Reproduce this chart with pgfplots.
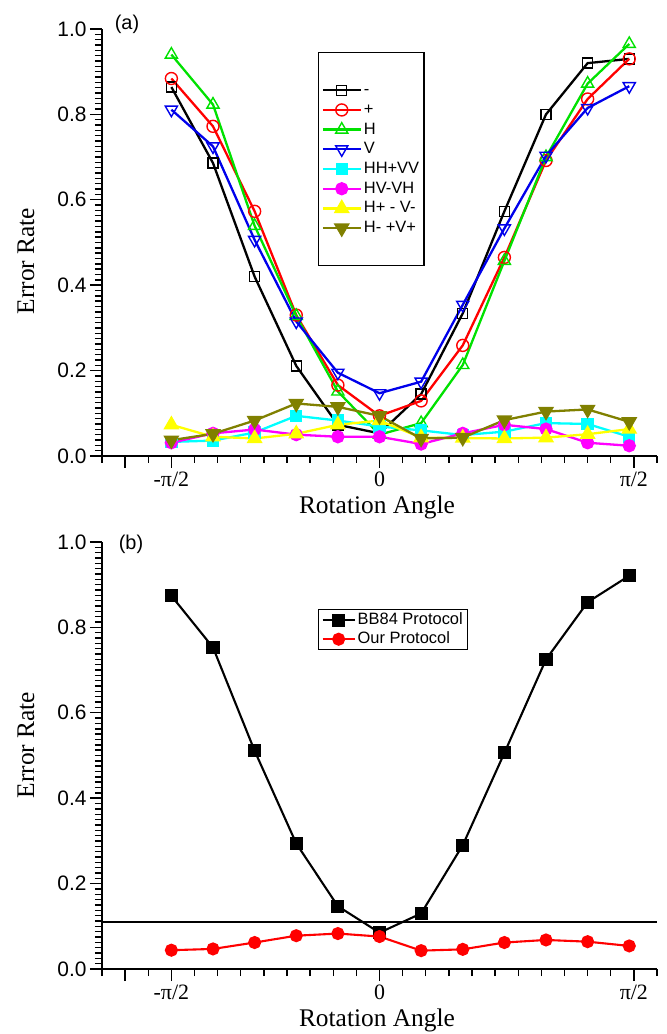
\documentclass[border=0pt]{standalone}
\usepackage{pgfplots}
\pgfplotsset{compat=1.18}
\usepackage{fontspec}
\setmainfont{Liberation Serif}
\newfontfamily\arial{Liberation Sans}
\definecolor{ogreen}{RGB}{0,225,0}
\definecolor{oblue}{RGB}{0,0,235}
\definecolor{ocyan}{RGB}{0,255,255}
\definecolor{omag}{RGB}{255,0,255}
\definecolor{oyel}{RGB}{255,255,0}
\definecolor{oolive}{RGB}{128,128,0}
\definecolor{ored}{RGB}{255,0,0}

\pgfplotstableread{
x m p H V HHVV HVVH Hp Hm
-75 0.864 0.884 0.940 0.811 0.033 0.031 0.073 0.037
-60 0.686 0.772 0.823 0.725 0.036 0.053 0.045 0.052
-45 0.420 0.573 0.539 0.506 0.055 0.062 0.041 0.083
-30 0.211 0.330 0.328 0.315 0.094 0.050 0.052 0.123
-15 0.073 0.166 0.151 0.195 0.083 0.045 0.073 0.115
0   0.053 0.094 0.050 0.147 0.069 0.045 0.083 0.094
15  0.145 0.129 0.077 0.174 0.060 0.028 0.043 0.041
30  0.334 0.259 0.213 0.354 0.049 0.053 0.042 0.043
45  0.573 0.465 0.457 0.533 0.057 0.073 0.041 0.084
60  0.800 0.692 0.700 0.703 0.077 0.063 0.043 0.104
75  0.920 0.836 0.872 0.815 0.075 0.031 0.051 0.109
90  0.930 0.930 0.965 0.866 0.045 0.024 0.063 0.080
}\tablea

\pgfplotstableread{
x bb our
-75 0.874 0.044
-60 0.753 0.047
-45 0.511 0.062
-30 0.294 0.078
-15 0.147 0.083
0   0.085 0.076
15  0.130 0.043
30  0.290 0.046
45  0.506 0.062
60  0.725 0.068
75  0.859 0.064
90  0.921 0.054
}\tableb

\begin{document}
\begin{tikzpicture}[x=1bp,y=1bp]
\useasboundingbox (0,0) rectangle (667,1034);
\pgfplotsset{
  myaxis/.style={
    scale only axis, width=555bp, height=427bp,
    xmin=-100, xmax=100, ymin=0, ymax=1,
    axis lines=left, axis line style={-, line width=1.8bp},
    tick align=outside,
    major tick length=12bp, minor tick length=7bp,
    tick style={black, line width=1.4bp},
    xtick={-91.667,-75,0,91.667},
    xticklabels={,-π/2,0,π/2},
    minor xtick={-100,-83.333,-66.667,-58.333,-50,-41.667,-33.333,-25,-16.667,-8.333,8.333,16.667,25,33.333,41.667,50,58.333,66.667,75,83.333,100},
    ytick={0,0.2,0.4,0.6,0.8,1.0},
    yticklabels={0.0,0.2,0.4,0.6,0.8,1.0},
    minor y tick num=15,
    xticklabel style={font=\fontsize{22}{22}\selectfont},
    yticklabel style={font=\arial\fontsize{21}{21}\selectfont},
    clip=false,
    legend cell align=left,
  }
}

% ---------------- panel (a)
\begin{axis}[myaxis, at={(102bp,578bp)}, anchor=south west,
  legend image code/.code={\draw[mark repeat=2,mark phase=2,#1] plot coordinates {(0bp,0bp) (19bp,0bp) (38bp,0bp)};},
  legend style={at={(0.389,0.946)}, anchor=north west, draw=black, line width=1.4bp,
    inner xsep=3bp, inner ysep=28bp, row sep=0.7bp,
    font=\arial\fontsize{16.5}{16.5}\selectfont,
    nodes={text height=12bp, text depth=3bp, inner sep=2bp}}]
\addplot[black, line width=2.3bp, mark=square, mark size=5bp, mark options={solid, fill=white, line width=1.4bp}] table[x=x,y=m] {\tablea};
\addlegendentry{-}
\addplot[ored, line width=2.3bp, mark=o, mark size=6bp, mark options={solid, fill=white, line width=1.4bp}] table[x=x,y=p] {\tablea};
\addlegendentry{+}
\addplot[ogreen, line width=2.3bp, mark=triangle, mark size=7bp, mark options={solid, fill=white, line width=1.4bp}] table[x=x,y=H] {\tablea};
\addlegendentry{H}
\addplot[oblue, line width=2.3bp, mark=triangle, mark size=7bp, mark options={solid, fill=white, line width=1.4bp, rotate=180}] table[x=x,y=V] {\tablea};
\addlegendentry{V}
\addplot[ocyan, line width=2.3bp, mark=square*, mark size=5bp, mark options={solid, fill=ocyan}] table[x=x,y=HHVV] {\tablea};
\addlegendentry{HH+VV}
\addplot[omag, line width=2.3bp, mark=*, mark size=5.5bp, mark options={solid, fill=omag}] table[x=x,y=HVVH] {\tablea};
\addlegendentry{HV-VH}
\addplot[oyel, line width=2.3bp, mark=triangle*, mark size=7bp, mark options={solid, fill=oyel}] table[x=x,y=Hp] {\tablea};
\addlegendentry{H+ - V-}
\addplot[oolive, line width=2.3bp, mark=triangle*, mark size=7bp, mark options={solid, fill=oolive, rotate=180}] table[x=x,y=Hm] {\tablea};
\addlegendentry{H- +V+}
\end{axis}

% ---------------- panel (b)
\begin{axis}[myaxis, at={(102bp,65bp)}, anchor=south west,
  legend image code/.code={\draw[mark repeat=2,mark phase=2,#1] plot coordinates {(0bp,0bp) (16bp,0bp) (32bp,0bp)};},
  legend style={at={(0.389,0.843)}, anchor=north west, draw=black, line width=1.4bp,
    inner xsep=3bp, inner ysep=1bp, row sep=0bp,
    font=\arial\fontsize{16.5}{16.5}\selectfont,
    nodes={text height=12bp, text depth=3bp, inner sep=2bp}}]
\addplot[black, line width=2bp, forget plot] coordinates {(-100,0.109) (100,0.109)};
\addplot[black, line width=2.1bp, mark=square*, mark size=5.5bp, mark options={solid, fill=black}] table[x=x,y=bb] {\tableb};
\addlegendentry{BB84 Protocol}
\addplot[ored, line width=2.1bp, mark=*, mark size=5.5bp, mark options={solid, fill=ored}] table[x=x,y=our] {\tableb};
\addlegendentry{Our Protocol}
\end{axis}

% ---------------- labels
\node[font=\arial\fontsize{20}{20}\selectfont] at (127,1010) {(a)};
\node[font=\arial\fontsize{20}{20}\selectfont] at (131,490) {(b)};
\node[rotate=90, font=\fontsize{25.5}{25.5}\selectfont] at (26,773) {Error Rate};
\node[rotate=90, font=\fontsize{25.5}{25.5}\selectfont] at (26,289) {Error Rate};
\node[font=\fontsize{25.5}{25.5}\selectfont] at (377,527) {Rotation Angle};
\node[font=\fontsize{25.5}{25.5}\selectfont] at (377,14) {Rotation Angle};
\end{tikzpicture}
\end{document}
